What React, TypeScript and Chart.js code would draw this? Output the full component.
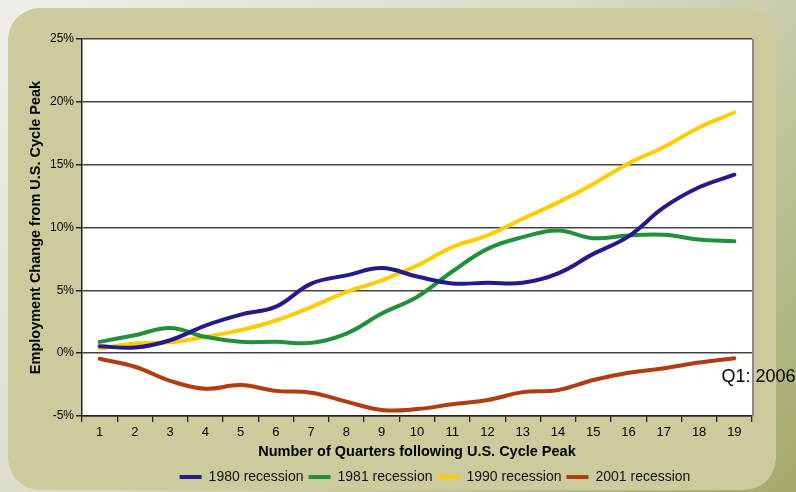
import React, { useEffect, useRef } from "react";
import { Chart, registerables } from "chart.js";

Chart.register(...registerables);

// ---- data ----
const quarters = ["1", "2", "3", "4", "5", "6", "7", "8", "9", "10", "11", "12", "13", "14", "15", "16", "17", "18", "19"];
const recession1980 = [0.55, 0.45, 1.03, 2.2, 3.07, 3.7, 5.53, 6.19, 6.77, 6.1, 5.55, 5.6, 5.6, 6.35, 7.9, 9.3, 11.6, 13.2, 14.2];
const recession1981 = [0.9, 1.43, 2.0, 1.3, 0.9, 0.9, 0.82, 1.56, 3.15, 4.47, 6.5, 8.3, 9.23, 9.76, 9.15, 9.37, 9.42, 9.05, 8.9];
const recession1990 = [0.37, 0.77, 0.87, 1.3, 1.83, 2.6, 3.67, 4.87, 5.8, 6.98, 8.44, 9.37, 10.7, 12.0, 13.47, 15.1, 16.4, 17.96, 19.15];
const recession2001 = [-0.45, -1.08, -2.2, -2.83, -2.54, -3.0, -3.15, -3.86, -4.52, -4.45, -4.07, -3.73, -3.1, -2.94, -2.14, -1.56, -1.2, -0.75, -0.4];
const seriesNames = ["1980 recession", "1981 recession", "1990 recession", "2001 recession"];
const seriesColors = ["#231a8c", "#21903a", "#ffcc00", "#b33c0e"];
const yMin = -5;
const yMax = 25;
const yStep = 5;
const xTitle = "Number of Quarters following U.S. Cycle Peak";
const yTitle = "Employment Change from U.S. Cycle Peak";
const noteText = "Q1: 2006";
const noteValue = -1.9;

const FONT = "'Liberation Sans', Arial, Helvetica, sans-serif";

const plotFrame = {
  id: "plotFrame",
  beforeDraw(chart: any) {
    const { ctx, chartArea: a } = chart;
    ctx.save();
    ctx.fillStyle = "#ffffff";
    ctx.fillRect(a.left, a.top, a.right - a.left, a.bottom - a.top);
    ctx.restore();
  },
  afterLayout(chart: any) {
    const lg = chart.legend;
    if (lg) {
      const shift = 18;
      lg.left = chart.chartArea.left + shift;
      lg.right = chart.chartArea.right + shift;
    }
  },
  afterDraw(chart: any) {
    const { ctx, chartArea: a } = chart;
    ctx.save();
    ctx.strokeStyle = "#8a8a8a";
    ctx.lineWidth = 2;
    ctx.beginPath();
    ctx.moveTo(a.right + 1, a.top);
    ctx.lineTo(a.right + 1, a.bottom);
    ctx.stroke();
    ctx.fillStyle = "#000";
    ctx.font = `18px ${FONT}`;
    ctx.textAlign = "left";
    ctx.textBaseline = "middle";
    ctx.fillText(noteText, a.right - 30.5, chart.scales.y.getPixelForValue(noteValue));
    ctx.restore();
  },
};

export default function App() {
  const ref = useRef<HTMLCanvasElement | null>(null);

  useEffect(() => {
    if (!ref.current) return;
    const series = [recession1980, recession1981, recession1990, recession2001];
    const chart = new Chart(ref.current, {
      type: "line",
      data: {
        labels: quarters,
        datasets: series.map((d, i) => ({
          label: seriesNames[i],
          data: d,
          borderColor: seriesColors[i],
          backgroundColor: seriesColors[i],
          borderWidth: 4,
          borderCapStyle: "round",
          borderJoinStyle: "round",
          pointRadius: 0,
          pointHoverRadius: 0,
          tension: 0.4,
          fill: false,
        })),
      },
      options: {
        responsive: false,
        animation: false,
        events: [],
        layout: { padding: { left: 27, top: 39, right: 44, bottom: -2 } },
        plugins: {
          tooltip: { enabled: false },
          legend: {
            position: "bottom",
            fullSize: false,
            labels: {
              usePointStyle: true,
              pointStyle: "line",
              pointStyleWidth: 22,
              padding: 5,
              color: "#111",
              font: { family: FONT, size: 14 },
            },
          },
        },
        scales: {
          x: {
            type: "category",
            offset: true,
            afterFit: (s: any) => {
              s.height = 49;
            },
            grid: {
              display: true,
              drawOnChartArea: false,
              drawTicks: true,
              tickLength: 6,
              tickColor: "#222",
              lineWidth: 1.3,
              offset: true,
            },
            border: { display: true, color: "#222", width: 1.5 },
            ticks: {
              color: "#000",
              padding: 3,
              maxRotation: 0,
              autoSkip: false,
              font: { family: FONT, size: 13 },
            },
            title: {
              display: true,
              text: xTitle,
              color: "#000",
              padding: { top: 0, bottom: 4 },
              font: { family: FONT, size: 14.5, weight: "bold" },
            },
          },
          y: {
            min: yMin,
            max: yMax,
            afterFit: (s: any) => {
              s.width = 55;
            },
            grid: {
              color: "#444444",
              lineWidth: 1.5,
              drawTicks: true,
              tickLength: 6,
              tickColor: "#222",
            },
            border: { display: true, color: "#222", width: 1.5 },
            ticks: {
              stepSize: yStep,
              color: "#000",
              padding: 2,
              font: { family: FONT, size: 12 },
              callback: (v: any) => `${v}%`,
            },
            title: {
              display: true,
              text: yTitle,
              color: "#000",
              padding: { top: 0, bottom: 0 },
              font: { family: FONT, size: 14.5, weight: "bold" },
            },
          },
        },
      },
      plugins: [plotFrame],
    } as any);
    return () => chart.destroy();
  }, []);

  return (
    <div
      style={{
        position: "fixed",
        left: 0,
        top: 0,
        width: 796,
        height: 492,
        overflow: "hidden",
        background: "linear-gradient(135deg, #efefe9 0%, #d9dbc6 45%, #a4a96a 100%)",
      }}
    >
      <div
        style={{
          position: "absolute",
          left: 8,
          top: 8,
          width: 768,
          height: 482,
          borderRadius: 32,
          background: "#cbcb9b",
        }}
      />
      <canvas
        ref={ref}
        width={796}
        height={492}
        style={{ position: "absolute", left: 0, top: 0, width: 796, height: 492 }}
      />
    </div>
  );
}
